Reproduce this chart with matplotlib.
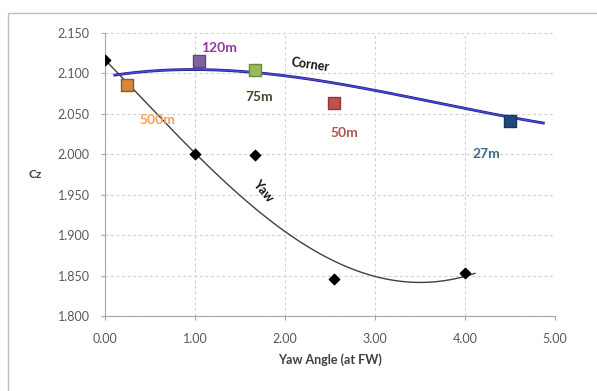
import numpy as np
import matplotlib
matplotlib.use("Agg")
import matplotlib.pyplot as plt
from matplotlib.patches import Rectangle

plt.rcParams['font.family'] = ['Lato', 'DejaVu Sans']

# Yaw sweep data
yaw_x = [0.00, 1.00, 1.667, 2.54, 4.00]
yaw_cz = [2.117, 2.000, 1.999, 1.846, 1.853]

# Points along the yaw trend curve
yaw_trend_x = [0.00, 1.00, 1.39, 2.00, 3.00, 3.28, 4.00, 4.11]
yaw_trend_cz = [2.117, 2.000, 1.962, 1.904, 1.848, 1.8435, 1.8505, 1.8515]

# Cornering radius data
corner_labels = ["500m", "120m", "75m", "50m", "27m"]
corner_x = [0.245, 1.04, 1.667, 2.54, 4.50]
corner_cz = [2.086, 2.115, 2.104, 2.063, 2.041]
corner_face = ["#d9853b", "#8064a2", "#9bbb59", "#c0504d", "#1f497d"]
corner_edge = ["#8a5a2a", "#5a4a7a", "#6a8a3a", "#8a3a38", "#16365c"]
label_colors = ["#f0a060", "#8e3a9e", "#3d4a28", "#b5524e", "#3c6a8e"]
label_pos = [(0.58, 2.043), (1.27, 2.131), (1.71, 2.071), (2.66, 2.026), (4.24, 2.000)]

# Points along the corner trend curve
corner_trend_x = [0.11, 1.20, 1.667, 2.00, 3.00, 4.50, 4.87]
corner_trend_cz = [2.098, 2.1035, 2.103, 2.096, 2.079, 2.046, 2.0386]

x_ticks = [0, 1, 2, 3, 4, 5]
y_ticks = [1.80, 1.85, 1.90, 1.95, 2.00, 2.05, 2.10, 2.15]

fig = plt.figure(figsize=(5.97, 3.91), dpi=100)
fig.patches.append(Rectangle((8 / 597, -0.01), 1.0, 1 - 13 / 391 + 0.01,
                             transform=fig.transFigure, fill=False,
                             edgecolor="#bfbfbf", linewidth=1.0))
ax = fig.add_axes([105 / 597, 1 - 316 / 391, 450 / 597, 283 / 391])

ax.set_xlim(0, 5)
ax.set_ylim(1.80, 2.15)
ax.set_xticks(x_ticks)
ax.set_yticks(y_ticks)
ax.set_xticklabels([f"{v:.2f}" for v in x_ticks])
ax.set_yticklabels([f"{v:.3f}" for v in y_ticks])
ax.grid(True, color="#cfcfcf", linestyle=(0, (2.5, 2.5)), linewidth=0.8)
ax.set_axisbelow(True)
for side in ("top", "right"):
    ax.spines[side].set_visible(False)
for side in ("left", "bottom"):
    ax.spines[side].set_color("#a6a6a6")
ax.tick_params(colors="#a6a6a6", labelcolor="#595959", labelsize=9, length=3,
               direction="out")
ax.tick_params(axis="y", pad=8)
ax.tick_params(axis="x", pad=9)

# Trend curves
cy = np.polyfit(yaw_trend_x, yaw_trend_cz, 4)
xs = np.linspace(yaw_trend_x[0], yaw_trend_x[-1], 200)
ax.plot(xs, np.polyval(cy, xs), color="#404040", linewidth=1.0, zorder=3)

cc = np.polyfit(corner_trend_x, corner_trend_cz, 3)
xc = np.linspace(corner_trend_x[0], corner_trend_x[-1], 200)
ax.plot(xc, np.polyval(cc, xc), color="#1a1a80", linewidth=2.0, zorder=3)
ax.plot(xc, np.polyval(cc, xc), color="#4a4ae0", linewidth=1.0, zorder=3)

ax.scatter(yaw_x, yaw_cz, marker="D", s=28, color="black", zorder=4)
for x, y, fc, ec in zip(corner_x, corner_cz, corner_face, corner_edge):
    ax.scatter([x], [y], marker="s", s=75, facecolor=fc, edgecolor=ec,
               linewidth=1.0, zorder=5)

for lab, (lx, ly), col in zip(corner_labels, label_pos, label_colors):
    ax.text(lx, ly, lab, color=col, fontsize=10, fontweight="bold",
            ha="center", va="center")

ax.text(2.28, 2.1104, "Corner", fontsize=9, fontweight="bold", rotation=-8,
        ha="center", va="center", color="#111111")
ax.text(1.76, 1.955, "Yaw", fontsize=9, fontweight="bold", rotation=-50,
        ha="center", va="center", color="#111111")

ax.set_xlabel("Yaw Angle (at FW)", fontsize=9, fontweight="bold", color="#404040",
              labelpad=6)
ax.set_ylabel("Cz", fontsize=8.5, fontweight="bold", color="#404040", rotation=0,
              labelpad=16, va="center")

fig.savefig("out.png", dpi=100)
